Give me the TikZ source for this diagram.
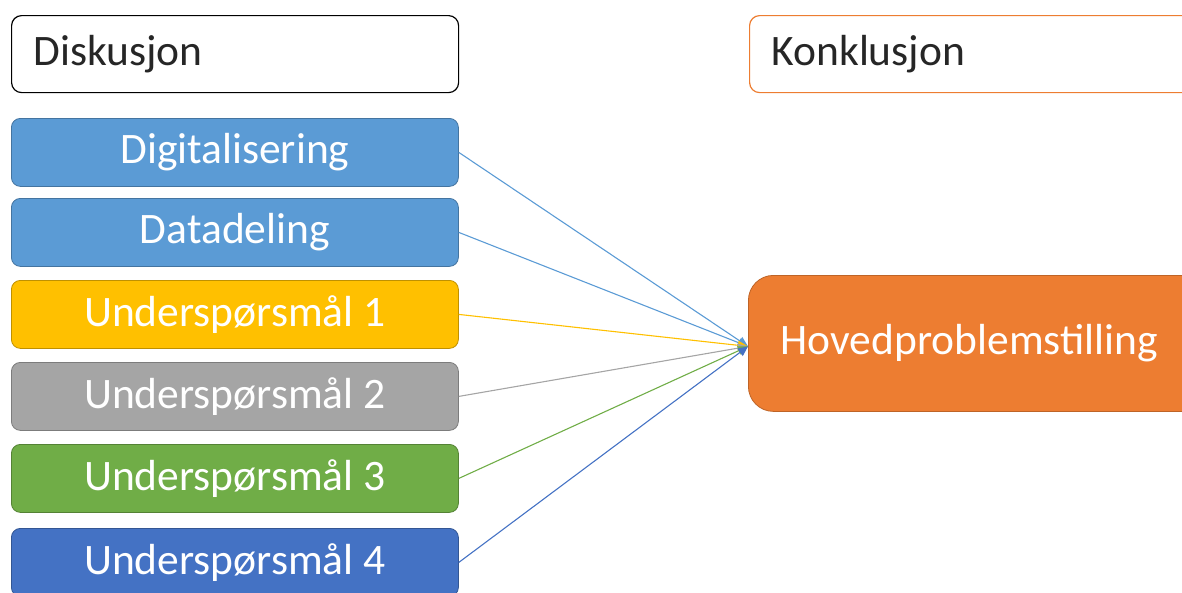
\documentclass[tikz,border=0pt]{standalone}
\usepackage{fontspec}
\setmainfont{Carlito}
\usetikzlibrary{arrows.meta}
\definecolor{cblue}{HTML}{5B9BD5}
\definecolor{cgold}{HTML}{FFC000}
\definecolor{cgray}{HTML}{A5A5A5}
\definecolor{cgreen}{HTML}{70AD47}
\definecolor{cdblue}{HTML}{4472C4}
\definecolor{corange}{HTML}{ED7D31}
\tikzset{
  bigtext/.style={font=\fontsize{43.5}{50}\selectfont},
  headbox/.style={bigtext, draw=#1, line width=1.2pt, fill=white, rounded corners=10pt,
    minimum height=77pt, anchor=north west, inner sep=0pt,
    align=left, text=black!85},
  topicbox/.style={bigtext, draw=#1!75!black, line width=0.8pt, fill=#1, rounded corners=9pt,
    minimum width=447pt, minimum height=68pt, anchor=north west, inner sep=0pt,
    text=white, align=center},
  link/.style={draw=#1, line width=1.1pt, -{Triangle[length=10pt,width=9pt]}}
}
\begin{document}
\begin{tikzpicture}[x=1pt, y=-1pt]
\useasboundingbox (0,0) rectangle (1182,592);
\clip (0,0) rectangle (1182,592);

% header boxes
\node[headbox=black, minimum width=447pt, text width=403pt] (disk) at (11,15) {Diskusjon};
\node[headbox=corange, minimum width=460pt, text width=416pt] (konk) at (749,15) {Konklusjon};

% discussion topics
\node[topicbox=cblue]  (dig)  at (11,118) {Digitalisering};
\node[topicbox=cblue]  (data) at (11,198) {Datadeling};
\node[topicbox=cgold]  (u1)   at (11,280) {Underspørsmål 1};
\node[topicbox=cgray]  (u2)   at (11,362) {Underspørsmål 2};
\node[topicbox=cgreen] (u3)   at (11,444) {Underspørsmål 3};
\node[topicbox=cdblue] (u4)   at (11,528) {Underspørsmål 4};

% main research question
\node[bigtext, draw=corange!80!black, line width=0.8pt, fill=corange, rounded corners=25pt,
  minimum width=470pt, minimum height=136pt, anchor=north west, inner sep=0pt,
  text=white] (hoved) at (748,275) {\hspace*{-28pt}Hovedproblemstilling};

\coordinate (tip) at ([shift={(0pt,-3pt)}]hoved.west);

% connectors
\draw[link=cblue]  (dig.east)  -- (tip);
\draw[link=cblue]  (data.east) -- (tip);
\draw[link=cgold]  (u1.east)   -- (tip);
\draw[link=cgray]  (u2.east)   -- (tip);
\draw[link=cgreen] (u3.east)   -- (tip);
\draw[link=cdblue] (u4.east)   -- (tip);
\end{tikzpicture}
\end{document}
